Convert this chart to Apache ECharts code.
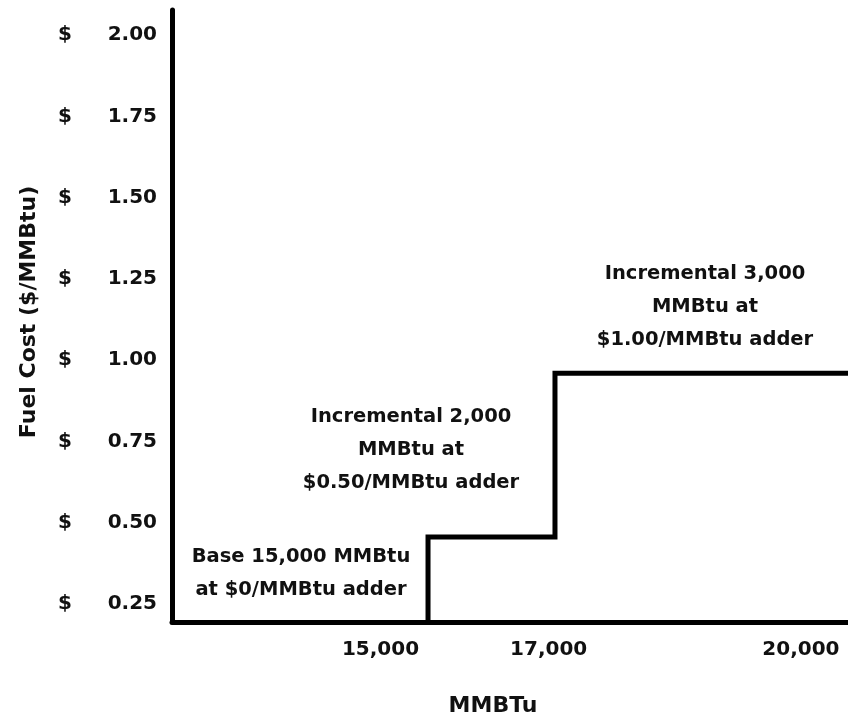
<!DOCTYPE html>
<html>
<head>
<meta charset="utf-8">
<script src="https://cdn.jsdelivr.net/npm/echarts@6/dist/echarts.min.js"></script>
<style>
html,body{margin:0;padding:0;background:#fff;}
#chart{width:848px;height:714px;}
</style>
</head>
<body>
<div id="chart"></div>
<script>
// ---- data ----
const xTickValues = [15000, 17000, 20000];            // x tick labels (MMBtu)
const yTickValues = [0.25, 0.5, 0.75, 1.0, 1.25, 1.5, 1.75, 2.0]; // y tick labels ($/MMBtu)
const xRange = [12520, 20560];                         // visible MMBtu range
const yRange = [0.1945, 2.077];                        // visible $/MMBtu range
const stepBreaksX = [15565, 17075, 20560];             // where each step starts / ends
const stepLevelsY = [0.1945, 0.456, 0.96];             // cost level reached at each break
const annotations = [
  'Base 15,000 MMBtu\nat $0/MMBtu adder',
  'Incremental 2,000\nMMBtu at\n$0.50/MMBtu adder',
  'Incremental 3,000\nMMBtu at\n$1.00/MMBtu adder'
];

const FONT = 'DejaVu Sans';
const INK = '#111';

const stepData = stepBreaksX.map((x, i) => [x, stepLevelsY[i]]);

const chart = echarts.init(document.getElementById('chart'), null, {renderer: 'canvas'});

const annoStyle = {fontFamily: FONT, fontWeight: 'bold', fontSize: 19.5, fill: INK, align: 'center', verticalAlign: 'middle', lineHeight: 33};

chart.setOption({
  animation: false,
  backgroundColor: '#fff',
  grid: {left: 172, right: 0, top: 10, bottom: 92, containLabel: false, outerBoundsMode: 'none'},
  xAxis: {
    type: 'value',
    min: xRange[0], max: xRange[1],
    name: 'MMBTu',
    nameLocation: 'middle',
    nameGap: 73,
    nameTextStyle: {fontFamily: FONT, fontWeight: 'bold', fontSize: 22, color: INK, padding: [0, 34, 0, 0]},
    splitLine: {show: false},
    axisTick: {show: false},
    axisLine: {show: true, lineStyle: {color: '#000', width: 5}},
    axisLabel: {
      customValues: xTickValues,
      margin: 18,
      fontFamily: FONT, fontWeight: 'bold', fontSize: 20, color: INK,
      formatter: v => v.toLocaleString('en-US')
    }
  },
  yAxis: {
    type: 'value',
    min: yRange[0], max: yRange[1],
    name: 'Fuel Cost ($/MMBtu)',
    nameLocation: 'middle',
    nameGap: 132,
    nameTextStyle: {fontFamily: FONT, fontWeight: 'bold', fontSize: 22, color: INK, padding: [0, 0, 0, 8]},
    splitLine: {show: false},
    axisTick: {show: false},
    axisLine: {show: true, lineStyle: {color: '#000', width: 5}},
    axisLabel: {
      customValues: yTickValues,
      margin: 15,
      formatter: v => '{d|$}{n|' + v.toFixed(2) + '}',
      rich: {
        d: {width: 48, align: 'left', fontFamily: FONT, fontWeight: 'bold', fontSize: 20, color: INK},
        n: {width: 51, align: 'right', fontFamily: FONT, fontWeight: 'bold', fontSize: 20, color: INK}
      }
    }
  },
  series: [{
    type: 'line',
    step: 'start',
    data: stepData,
    symbol: 'none',
    clip: false,
    lineStyle: {color: '#000', width: 5, join: 'miter'},
    z: 5
  }],
  graphic: [
    {type: 'text', x: 301, y: 573, style: Object.assign({text: annotations[0]}, annoStyle)},
    {type: 'text', x: 411, y: 450, style: Object.assign({text: annotations[1]}, annoStyle)},
    {type: 'text', x: 705, y: 307, style: Object.assign({text: annotations[2]}, annoStyle)}
  ]
});
</script>
</body>
</html>
